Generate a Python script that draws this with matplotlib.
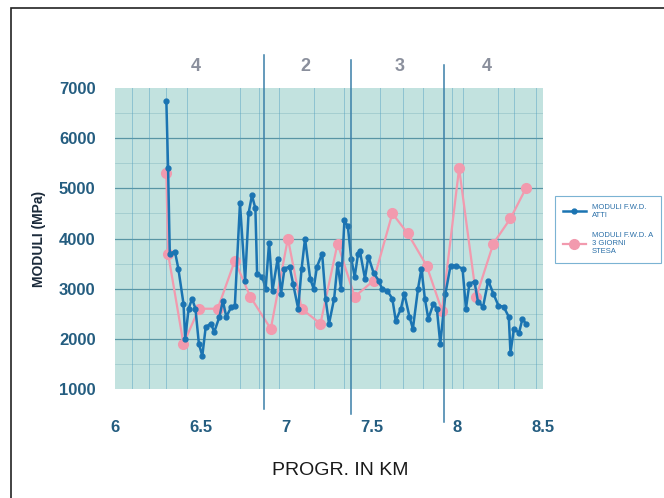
import matplotlib
matplotlib.use("Agg")
import matplotlib.pyplot as plt
from matplotlib.patches import Rectangle

# FWD moduli along the road (km, MPa)
km_fwd = [6.30, 6.31, 6.32, 6.35, 6.37, 6.40, 6.41, 6.43, 6.45, 6.47, 6.49, 6.51, 6.53, 6.56,
          6.58, 6.61, 6.63, 6.65, 6.68, 6.70, 6.73, 6.76, 6.78, 6.80, 6.82, 6.83, 6.86, 6.88,
          6.90, 6.92, 6.95, 6.97, 6.99, 7.02, 7.04, 7.07, 7.09, 7.11, 7.14, 7.16, 7.18, 7.21,
          7.23, 7.25, 7.28, 7.30, 7.32, 7.34, 7.36, 7.38, 7.40, 7.42, 7.43, 7.46, 7.48, 7.51,
          7.54, 7.56, 7.59, 7.62, 7.64, 7.67, 7.69, 7.72, 7.74, 7.77, 7.79, 7.81, 7.83, 7.86,
          7.88, 7.90, 7.93, 7.96, 7.99, 8.03, 8.05, 8.07, 8.10, 8.12, 8.15, 8.18, 8.21, 8.24,
          8.27, 8.30, 8.31, 8.33, 8.36, 8.38, 8.40]
mod_fwd = [6740, 5400, 3700, 3740, 3400, 2700, 2000, 2600, 2800, 2600, 1900, 1660, 2240, 2300,
           2140, 2440, 2760, 2440, 2640, 2660, 4700, 3160, 4500, 4860, 4600, 3300, 3240, 3000,
           3920, 2960, 3600, 2900, 3400, 3440, 3100, 2600, 3400, 4000, 3200, 3000, 3440, 3700,
           2800, 2300, 2800, 3500, 3000, 4360, 4240, 3600, 3240, 3700, 3760, 3200, 3640, 3320,
           3160, 3000, 2960, 2800, 2360, 2600, 2900, 2440, 2200, 3000, 3400, 2800, 2400, 2700,
           2600, 1900, 2900, 3460, 3460, 3400, 2600, 3100, 3140, 2740, 2640, 3160, 2900, 2660,
           2640, 2440, 1720, 2200, 2120, 2400, 2300]

# FWD moduli 3 days after laying
km_3g = [6.30, 6.31, 6.40, 6.49, 6.60, 6.70, 6.79, 6.91, 7.01, 7.09, 7.20, 7.30, 7.40, 7.51,
         7.62, 7.71, 7.82, 7.91, 8.01, 8.11, 8.21, 8.31, 8.40]
mod_3g = [5300, 3700, 1900, 2600, 2600, 3560, 2840, 2200, 4000, 2600, 2300, 3900, 2840, 3160,
          4500, 4100, 3460, 2560, 5400, 2840, 3900, 4400, 5000]

sections = ["4", "2", "3", "4"]
section_x = [6.47, 7.11, 7.66, 8.17]
dividers = [6.87, 7.38, 7.92]
x_ticks = [6, 6.5, 7, 7.5, 8, 8.5]
x_labels = ["6", "6.5", "7", "7.5", "8", "8.5"]
y_ticks = [1000, 2000, 3000, 4000, 5000, 6000, 7000]

BG = "#c2e2df"
BLUE = "#1b74b2"
PINK = "#f29aae"
TICK = "#245d80"

plt.rcParams["font.family"] = ["Liberation Sans", "DejaVu Sans"]

fig = plt.figure(figsize=(6.64, 4.98), dpi=100, facecolor="white")
ax = fig.add_axes([115 / 664, 1 - 389 / 498, 428 / 664, 301 / 498])
ax.set_facecolor(BG)

# outer frame of the page
fig.patches.append(Rectangle((11 / 664, -0.05), 1.0, 1 - 8 / 498 + 0.05,
                             transform=fig.transFigure, fill=False,
                             edgecolor="#222222", linewidth=1.2))

ax.set_xlim(6, 8.5)
ax.set_ylim(1000, 7000)

# grid
for y in range(1500, 7000, 500):
    ax.axhline(y, color="#7db3bd", linewidth=0.5, alpha=0.6, zorder=1)
for y in y_ticks[1:-1]:
    ax.axhline(y, color="#3f8296", linewidth=0.9, alpha=0.75, zorder=1)
for x in [6.1, 6.2, 6.3, 6.42, 6.73, 6.84, 6.96, 7.16, 7.34, 7.55, 7.68, 7.8, 7.97, 8.03, 8.24, 8.33, 8.46]:
    ax.axvline(x, color="#4d9cc0", linewidth=0.7, alpha=0.45, zorder=1)

ax.plot(km_3g, mod_3g, "-o", color=PINK, markersize=7, linewidth=1.6,
        markeredgecolor=PINK, zorder=2,
        label="MODULI F.W.D. A\n3 GIORNI\nSTESA")
ax.plot(km_fwd, mod_fwd, "-o", color=BLUE, markersize=3.5, linewidth=1.8,
        zorder=3, label="MODULI F.W.D.\nATTI")

# section dividers, running out of the plot area
for x, top, bot in zip(dividers, [7650, 7550, 7450], [600, 500, 350]):
    ax.plot([x, x], [bot, top], color="#3a7fa8", linewidth=1.1,
            clip_on=False, zorder=4)
for x, s in zip(section_x, sections):
    ax.text(x, 7420, s, ha="center", va="center", fontsize=13,
            color="#8a8f9c", fontweight="bold")

for side in ["top", "right", "left", "bottom"]:
    ax.spines[side].set_visible(False)

ax.set_xticks(x_ticks)
ax.set_xticklabels(x_labels)
ax.set_yticks(y_ticks)
ax.tick_params(length=0, colors=TICK, labelsize=12)
ax.tick_params(axis="x", pad=22)
ax.tick_params(axis="y", pad=14)
for lab in ax.get_xticklabels() + ax.get_yticklabels():
    lab.set_fontweight("bold")

ax.set_ylabel("MODULI (MPa)", fontsize=10, fontweight="bold", color="#1b2a3a",
              labelpad=9)
fig.text(340 / 664, 1 - 470 / 498, "PROGR. IN KM", ha="center", va="center",
         fontsize=14, color="#1a1a1a")

handles, labels = ax.get_legend_handles_labels()
leg = fig.legend(handles[::-1], labels[::-1], loc="upper left",
                 bbox_to_anchor=(555 / 664, 1 - 196 / 498), fontsize=5.5,
                 frameon=True, fancybox=False, edgecolor="#5aa0c8",
                 labelcolor="#2a6fa8", handlelength=3.0, labelspacing=1.8,
                 borderpad=1.0, borderaxespad=0)
leg.get_frame().set_linewidth(0.8)

fig.savefig("out.png", dpi=100, facecolor="white")
